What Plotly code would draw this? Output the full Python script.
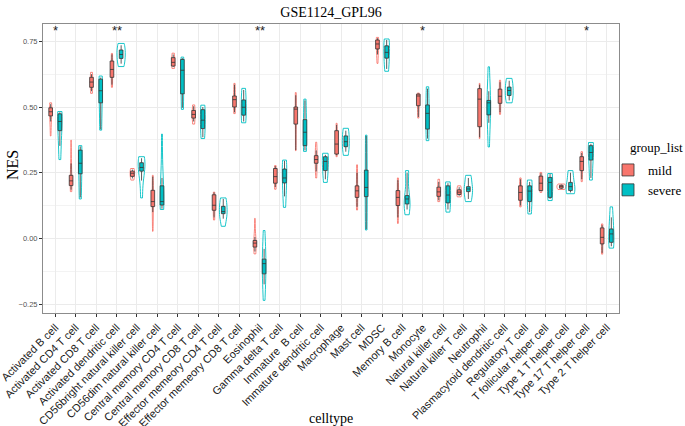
import plotly.graph_objects as go

# ---------------- data ----------------
categories = [
    "Activated B cell", "Activated CD4 T cell", "Activated CD8 T cell",
    "Activated dendritic cell", "CD56bright natural killer cell",
    "CD56dim natural killer cell", "Central memory CD4 T cell",
    "Central memory CD8 T cell", "Effector memeory CD4 T cell",
    "Effector memeory CD8 T cell", "Eosinophil", "Gamma delta T cell",
    "Immature\u00a0 B cell", "Immature dendritic cell", "Macrophage", "Mast cell",
    "MDSC", "Memory B cell", "Monocyte", "Natural killer cell",
    "Natural killer T cell", "Neutrophil", "Plasmacytoid dendritic cell",
    "Regulatory T cell", "T follicular helper cell", "Type 1 T helper cell",
    "Type 17 T helper cell", "Type 2 T helper cell",
]

# mild group: violin extent, whiskers, quartiles, median
mild_min = [0.390, 0.178, 0.552, 0.575, 0.222, 0.027, 0.647, 0.435, 0.070, 0.475, -0.059, 0.187, 0.334, 0.230,
            0.311, 0.108, 0.666, 0.057, 0.458, 0.140, 0.158, 0.380, 0.472, 0.120, 0.175, 0.186, 0.216, -0.060]
mild_wlo = [0.445, 0.185, 0.560, 0.585, 0.228, 0.100, 0.652, 0.445, 0.080, 0.480, -0.050, 0.195, 0.336, 0.255,
            0.316, 0.120, 0.700, 0.080, 0.462, 0.145, 0.162, 0.385, 0.480, 0.125, 0.180, 0.188, 0.225, -0.055]
mild_q1 = [0.466, 0.201, 0.575, 0.613, 0.236, 0.121, 0.656, 0.458, 0.107, 0.500, -0.033, 0.210, 0.435, 0.286,
           0.321, 0.156, 0.721, 0.125, 0.505, 0.160, 0.167, 0.425, 0.514, 0.145, 0.182, 0.191, 0.258, -0.021]
mild_med = [0.482, 0.219, 0.595, 0.643, 0.248, 0.140, 0.670, 0.472, 0.126, 0.528, -0.018, 0.235, 0.492, 0.300,
            0.359, 0.181, 0.740, 0.156, 0.542, 0.177, 0.176, 0.530, 0.541, 0.175, 0.210, 0.197, 0.293, 0.004]
mild_q3 = [0.497, 0.240, 0.613, 0.675, 0.256, 0.183, 0.688, 0.487, 0.166, 0.542, -0.008, 0.266, 0.500, 0.315,
           0.410, 0.200, 0.755, 0.182, 0.549, 0.195, 0.185, 0.570, 0.568, 0.200, 0.237, 0.202, 0.311, 0.040]
mild_whi = [0.511, 0.285, 0.625, 0.700, 0.262, 0.235, 0.700, 0.503, 0.175, 0.585, 0.005, 0.275, 0.545, 0.335,
            0.432, 0.250, 0.762, 0.222, 0.552, 0.215, 0.195, 0.585, 0.595, 0.225, 0.248, 0.205, 0.325, 0.050]
mild_max = [0.516, 0.374, 0.632, 0.704, 0.266, 0.240, 0.705, 0.508, 0.176, 0.590, 0.076, 0.277, 0.555, 0.366,
            0.438, 0.280, 0.765, 0.230, 0.553, 0.225, 0.200, 0.590, 0.602, 0.230, 0.251, 0.207, 0.330, 0.055]

# severe group
sev_min = [0.300, 0.150, 0.412, 0.654, 0.154, 0.110, 0.491, 0.380, 0.046, 0.440, -0.236, 0.118, 0.331, 0.213,
           0.316, 0.032, 0.636, 0.090, 0.372, 0.100, 0.140, 0.348, 0.516, 0.093, 0.144, 0.170, 0.222, -0.037]
sev_wlo = [0.352, 0.156, 0.415, 0.665, 0.220, 0.113, 0.497, 0.385, 0.075, 0.445, -0.175, 0.160, 0.335, 0.225,
           0.330, 0.035, 0.645, 0.110, 0.380, 0.110, 0.150, 0.440, 0.525, 0.100, 0.150, 0.175, 0.230, -0.030]
sev_q1 = [0.410, 0.246, 0.516, 0.685, 0.256, 0.127, 0.550, 0.418, 0.094, 0.469, -0.135, 0.211, 0.353, 0.258,
          0.349, 0.159, 0.686, 0.131, 0.416, 0.135, 0.178, 0.470, 0.544, 0.140, 0.156, 0.182, 0.298, -0.015]
sev_med = [0.445, 0.286, 0.562, 0.700, 0.270, 0.140, 0.640, 0.450, 0.102, 0.499, -0.096, 0.230, 0.404, 0.293,
           0.368, 0.194, 0.708, 0.150, 0.476, 0.165, 0.188, 0.516, 0.563, 0.180, 0.213, 0.197, 0.327, 0.017]
sev_q3 = [0.474, 0.336, 0.606, 0.717, 0.288, 0.200, 0.681, 0.490, 0.122, 0.527, -0.079, 0.264, 0.452, 0.311,
          0.390, 0.260, 0.733, 0.163, 0.508, 0.200, 0.197, 0.525, 0.576, 0.200, 0.232, 0.213, 0.353, 0.036]
sev_whi = [0.480, 0.350, 0.612, 0.735, 0.305, 0.230, 0.686, 0.500, 0.150, 0.565, -0.040, 0.295, 0.525, 0.318,
           0.410, 0.390, 0.755, 0.250, 0.570, 0.210, 0.230, 0.560, 0.600, 0.215, 0.245, 0.250, 0.360, 0.080]
sev_max = [0.483, 0.353, 0.618, 0.742, 0.311, 0.397, 0.690, 0.507, 0.154, 0.571, 0.030, 0.298, 0.530, 0.324,
           0.419, 0.393, 0.759, 0.258, 0.577, 0.215, 0.240, 0.653, 0.609, 0.222, 0.247, 0.258, 0.365, 0.120]

# significance labels (mild vs severe)
sig_labels = ["*", "", "", "**", "", "", "", "", "", "", "**", "", "", "", "", "", "", "", "*", "", "", "",
              "", "", "", "", "*", ""]
sig_y = 0.79

groups = ["mild", "severe"]
colors = {"mild": "#F8766D", "severe": "#00BFC4"}

SERIF = "Liberation Serif, Times New Roman, serif"
SANS = "Liberation Sans, Arial, sans-serif"

stats = {
    "mild": (mild_min, mild_wlo, mild_q1, mild_med, mild_q3, mild_whi, mild_max),
    "severe": (sev_min, sev_wlo, sev_q1, sev_med, sev_q3, sev_whi, sev_max),
}

fig = go.Figure()

# violins: one per cell type and group, offset by group through the library
for g in groups:
    cols = stats[g]
    for i, c in enumerate(categories):
        ys = [col[i] for col in cols]
        iqr = cols[4][i] - cols[2][i]
        span = cols[6][i] - cols[0][i]
        bw = max(0.55 * iqr + 0.12 * span, 0.004)
        fig.add_trace(go.Violin(
            x=[c] * len(ys), y=ys, name=g, legendgroup=g, showlegend=False,
            offsetgroup=g, alignmentgroup="all",
            line=dict(color=colors[g], width=0.9),
            fillcolor="rgba(255,255,255,0)",
            points=False, box_visible=False, meanline_visible=False,
            spanmode="hard", scalemode="width", bandwidth=bw, hoverinfo="skip",
        ))

for g in groups:
    vmin, wlo, q1, med, q3, whi, vmax = stats[g]
    fig.add_trace(go.Box(
        x=categories, q1=q1, median=med, q3=q3, lowerfence=wlo, upperfence=whi,
        name=g, legendgroup=g, showlegend=True,
        offsetgroup=g, alignmentgroup="all",
        fillcolor=colors[g], line=dict(color="#333333", width=0.8),
        boxpoints=False, whiskerwidth=0,
    ))

# significance stars
for c, lab in zip(categories, sig_labels):
    if lab:
        fig.add_annotation(x=c, y=sig_y, text=lab, showarrow=False,
                           font=dict(family=SANS, size=13, color="#222222"),
                           xref="x", yref="y", yanchor="middle")

# axis titles / legend title as annotations for exact placement
fig.add_annotation(text="NES", xref="paper", yref="paper", x=(12 - 43) / 576, y=(313 - 165) / 289,
                   textangle=-90, showarrow=False, font=dict(family=SERIF, size=16, color="black"),
                   xanchor="center", yanchor="middle")
fig.add_annotation(text="celltype", xref="paper", yref="paper", x=0.5, y=(313 - 418) / 289,
                   showarrow=False, font=dict(family=SERIF, size=14, color="black"),
                   xanchor="center", yanchor="middle")
fig.add_annotation(text="group_list", xref="paper", yref="paper", x=(628 - 43) / 576, y=(313 - 147) / 289,
                   showarrow=False, font=dict(family=SERIF, size=13, color="black"),
                   xanchor="left", yanchor="middle")

fig.update_layout(
    width=685, height=426,
    margin=dict(l=43, r=66, t=24, b=113, autoexpand=False),
    paper_bgcolor="white", plot_bgcolor="white",
    title=dict(text="GSE1124_GPL96", x=(43 + 288) / 685, xanchor="center", y=1 - 12 / 426, yanchor="middle",
               font=dict(family=SERIF, size=14, color="black")),
    violinmode="group", violingap=0.1, violingroupgap=0.04,
    boxmode="group", boxgap=0.1, boxgroupgap=0.6,
    legend=dict(x=(608 - 43) / 576, xanchor="left", y=(313 - 155) / 289, yanchor="top",
                font=dict(family=SERIF, size=13, color="black"), bgcolor="rgba(0,0,0,0)",
                tracegroupgap=0, itemwidth=30),
    showlegend=True,
)

fig.update_xaxes(
    type="category", categoryorder="array", categoryarray=categories,
    range=[-0.6, len(categories) - 0.4], automargin=False,
    tickangle=-45, tickfont=dict(family=SANS, size=11, color="#1a1a1a"),
    ticks="outside", ticklen=3, tickcolor="#333333",
    showgrid=True, gridcolor="#EBEBEB", gridwidth=1,
    showline=True, mirror=True, linecolor="#8c8c8c", linewidth=1,
    zeroline=False,
)
fig.update_yaxes(
    range=[-0.284, 0.816], tick0=0, dtick=0.25, tickformat=".2f", automargin=False,
    tickfont=dict(family=SANS, size=7.5, color="#555555"),
    ticks="outside", ticklen=3, tickcolor="#333333",
    showgrid=True, gridcolor="#EBEBEB", gridwidth=1,
    minor=dict(tick0=0, dtick=0.125, showgrid=True, gridcolor="#F3F3F3", gridwidth=0.6, ticks=""),
    showline=True, mirror=True, linecolor="#8c8c8c", linewidth=1,
    zeroline=False,
)

fig.write_html("out.html", config={"displayModeBar": False},
               post_script="document.body.style.margin='0';document.body.style.overflow='hidden';")
